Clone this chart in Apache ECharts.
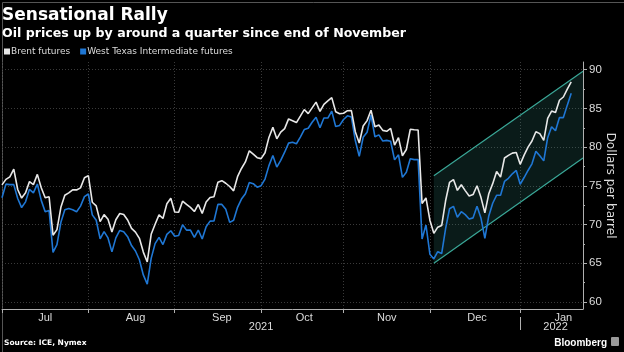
<!DOCTYPE html>
<html>
<head>
<meta charset="utf-8">
<script src="https://cdn.jsdelivr.net/npm/echarts@6/dist/echarts.min.js"></script>
<style>
html, body { margin: 0; padding: 0; background: #000; }
#chart { width: 624px; height: 352px; }
</style>
</head>
<body>
<div id="chart"></div>
<script>
// trading days (Mon-Fri) shown on the axis
var firstDay = '2021-06-30';
var lastDay = '2022-01-24';

// Brent futures, one value per trading day from Jun 30
var brent = [
	75.13,
	75.84, 76.17, 77.16, 74.53, 73.43, 74.12, 75.55, 75.16, 76.49, 74.76, 73.47, 73.59, 68.62, 69.35, 72.23, 73.79, 74.10, 74.50, 74.48, 74.74, 76.05, 76.33,
	72.89, 72.41, 70.38, 71.29, 70.70, 69.04, 70.63, 71.44, 71.31, 70.59, 69.51, 69.03, 68.23, 66.45, 65.18, 68.75, 70.05, 71.25, 70.79, 72.70, 73.41, 71.63,
	71.59, 73.03, 72.61, 72.22, 71.69, 72.60, 71.45, 72.92, 73.51, 73.60, 75.46, 75.67, 75.34, 74.92, 74.36, 76.19, 77.25, 78.09, 79.53, 79.09, 78.64, 78.52,
	79.28, 81.26, 82.56, 81.08, 81.95, 82.39, 83.65, 83.42, 83.18, 84.00, 84.86, 84.33, 85.08, 85.82, 84.61, 85.53, 85.99, 86.40, 84.58, 84.32, 84.38,
	84.71, 84.72, 81.99, 80.54, 82.74, 83.43, 84.78, 82.64, 82.87, 82.17, 82.05, 82.43, 80.28, 81.24, 78.89, 79.70, 82.31, 82.25, 82.22, 72.72, 73.44, 70.57,
	68.87, 69.67, 69.88, 73.08, 75.44, 75.82, 74.42, 75.15, 74.39, 73.70, 73.88, 75.02, 73.52, 71.52, 73.98, 75.29, 76.85, 76.14, 78.60, 78.94, 79.23, 79.32, 77.78,
	78.98, 80.00, 80.80, 81.99, 81.75, 80.87, 83.72, 84.67, 84.47, 86.06, 86.48, 87.51, 88.44
];

// West Texas Intermediate futures
var wti = [
	73.47,
	75.23, 75.16, 75.16, 73.37, 72.20, 72.94, 74.56, 74.10, 75.25, 73.13, 71.65, 71.81, 66.42, 67.42, 70.30, 71.91, 72.07, 71.91, 71.65, 72.39, 73.62, 73.95,
	71.26, 70.56, 68.15, 69.09, 68.28, 66.48, 68.29, 69.25, 69.09, 68.44, 67.29, 66.59, 65.46, 63.50, 62.32, 65.64, 67.54, 68.36, 67.42, 68.74, 69.21, 68.50,
	68.59, 69.99, 69.29, 69.29, 68.35, 69.30, 68.14, 69.72, 70.45, 70.46, 72.61, 72.61, 71.97, 70.29, 70.56, 72.23, 73.30, 73.98, 75.45, 75.29, 74.83, 75.03,
	75.88, 77.62, 78.93, 77.43, 78.30, 79.35, 80.52, 80.64, 80.44, 81.31, 82.28, 82.44, 83.22, 83.87, 82.50, 83.76, 83.76, 84.65, 82.66, 82.81, 83.57,
	84.05, 83.91, 80.86, 78.81, 81.27, 81.93, 84.15, 81.34, 81.59, 80.79, 80.88, 80.76, 78.36, 79.01, 76.10, 76.75, 78.50, 78.39, 78.39, 68.15, 69.95, 66.18,
	65.57, 66.50, 66.26, 69.49, 72.05, 72.36, 70.94, 71.67, 71.29, 70.73, 70.87, 72.38, 70.86, 68.23, 71.12, 72.76, 73.79, 73.79, 75.57, 75.98, 76.56, 76.99, 75.21,
	76.08, 76.99, 77.85, 79.46, 78.90, 78.23, 81.22, 82.64, 82.12, 83.82, 83.82, 85.43, 86.96
];

// rising channel drawn from end of November
var channelDays = ['2021-12-01', '2022-01-24'];
var channelLow = [65.0, 78.6];
var channelHigh = [76.3, 89.8];

// bottom axis text
var monthLabels = ['Jul', 'Aug', 'Sep', 'Oct', 'Nov', 'Dec', 'Jan'];
var monthLabelDays = ['2021-07-15', '2021-08-17', '2021-09-16', '2021-10-15', '2021-11-15', '2021-12-16', '2022-01-17'];
var yearLabels = ['2021', '2022'];
var yearLabelDays = ['2021-09-30', '2022-01-13'];
var yTicks = [60, 65, 70, 75, 80, 85, 90];

// build weekday list
var days = [];
var d = new Date(firstDay + 'T00:00:00');
var end = new Date(lastDay + 'T00:00:00');
while (d <= end) {
	var w = d.getDay();
	if (w !== 0 && w !== 6) {
		var m = d.getMonth() + 1, dd = d.getDate();
		days.push(d.getFullYear() + '-' + (m < 10 ? '0' + m : m) + '-' + (dd < 10 ? '0' + dd : dd));
	}
	d.setDate(d.getDate() + 1);
}

// last trading day of a month / of a year
function monthEnd(index, value) {
	return index + 1 < days.length && days[index + 1].slice(5, 7) !== value.slice(5, 7);
}
function yearEnd(index, value) {
	return index + 1 < days.length && days[index + 1].slice(0, 4) !== value.slice(0, 4);
}

var gridColor = '#3a3a3a';
var axisColor = '#b0b0b0';
var textColor = '#dcdcdc';

var myChart = echarts.init(document.getElementById('chart'));

var option = {
	backgroundColor: '#000',
	animation: false,
	title: [{
		text: 'Sensational Rally',
		left: 2, top: 7, padding: 0,
		textStyle: { color: '#fff', fontFamily: 'DejaVu Sans', fontWeight: 'bold', fontSize: 17 }
	}, {
		text: 'Oil prices up by around a quarter since end of November',
		left: 2, top: 27, padding: 0,
		textStyle: { color: '#fff', fontFamily: 'DejaVu Sans', fontWeight: 'bold', fontSize: 12.6 }
	}, {
		text: 'Source: ICE, Nymex',
		left: 4, top: 339, padding: 0,
		textStyle: { color: '#fff', fontFamily: 'DejaVu Sans', fontWeight: 'bold', fontSize: 7.5 }
	}, {
		text: 'Bloomberg',
		right: 17, top: 338, padding: 0,
		textStyle: { color: '#fff', fontFamily: 'Liberation Sans', fontWeight: 'bold', fontSize: 10 }
	}],
	legend: {
		data: ['Brent futures', 'West Texas Intermediate futures'],
		left: 4, top: 47, padding: 0,
		icon: 'rect',
		itemWidth: 6, itemHeight: 6,
		itemGap: 10,
		textStyle: { color: textColor, fontFamily: 'DejaVu Sans', fontSize: 9, padding: [0, 0, 0, -4] }
	},
	grid: { left: 2, right: 41, top: 62, bottom: 43, containLabel: false, outerBoundsMode: 'none' },
	xAxis: [{
		// month ticks and labels
		type: 'category',
		data: days,
		boundaryGap: false,
		axisLine: { lineStyle: { color: axisColor } },
		axisTick: { interval: monthEnd, length: 4, lineStyle: { color: axisColor } },
		axisLabel: {
			interval: function (index, value) { return monthLabelDays.indexOf(value) >= 0; },
			formatter: function (value) { return monthLabels[monthLabelDays.indexOf(value)]; },
			color: textColor, fontFamily: 'Liberation Sans', fontSize: 11, margin: 3
		},
		splitLine: { show: true, interval: monthEnd, lineStyle: { color: gridColor, type: [1, 2] } }
	}, {
		// year row
		type: 'category',
		data: days,
		boundaryGap: false,
		position: 'bottom',
		offset: 8,
		axisLine: { show: false },
		axisTick: { show: true, interval: yearEnd, length: 13, lineStyle: { color: axisColor } },
		axisLabel: {
			interval: function (index, value) { return yearLabelDays.indexOf(value) >= 0; },
			formatter: function (value) { return yearLabels[yearLabelDays.indexOf(value)]; },
			color: textColor, fontFamily: 'Liberation Sans', fontSize: 11, margin: 4
		},
		splitLine: { show: false }
	}],
	yAxis: {
		type: 'value',
		position: 'right',
		min: 59.1, max: 91,
		name: 'Dollars per barrel',
		nameLocation: 'middle',
		nameRotate: -90,
		nameGap: 21,
		nameMoveOverlap: false,
		nameTextStyle: { color: textColor, fontFamily: 'DejaVu Sans', fontSize: 12.2 },
		axisLine: { show: true, lineStyle: { color: axisColor } },
		axisTick: { show: true, customValues: yTicks, length: 4, lineStyle: { color: axisColor } },
		minorTick: { show: true, splitNumber: 2, length: 2, lineStyle: { color: axisColor } },
		axisLabel: { customValues: yTicks, color: textColor, fontFamily: 'Liberation Sans', fontSize: 11.5, margin: 6 },
		splitLine: { show: true, lineStyle: { color: gridColor, type: [1, 2] } }
	},
	series: [{
		name: 'channel',
		type: 'custom',
		z: 1,
		silent: true,
		encode: { x: [0, 3], y: [1, 2, 4, 5] },
		data: [[days.indexOf(channelDays[0]), channelLow[0], channelHigh[0],
			days.indexOf(channelDays[1]), channelLow[1], channelHigh[1]]],
		renderItem: function (params, api) {
			var a = api.coord([api.value(0), api.value(1)]);
			var b = api.coord([api.value(0), api.value(2)]);
			var c = api.coord([api.value(3), api.value(5)]);
			var e = api.coord([api.value(3), api.value(4)]);
			var edge = { stroke: '#3aa898', lineWidth: 1.2 };
			return {
				type: 'group',
				children: [
					{ type: 'polygon', shape: { points: [a, b, c, e] }, style: { fill: 'rgba(60,170,155,0.16)' } },
					{ type: 'line', shape: { x1: b[0], y1: b[1], x2: c[0], y2: c[1] }, style: edge },
					{ type: 'line', shape: { x1: a[0], y1: a[1], x2: e[0], y2: e[1] }, style: edge }
				]
			};
		}
	}, {
		name: 'West Texas Intermediate futures',
		type: 'line',
		data: wti,
		symbol: 'none',
		z: 3,
		itemStyle: { color: '#1f77d4' },
		lineStyle: { color: '#1f77d4', width: 1.6 }
	}, {
		name: 'Brent futures',
		type: 'line',
		data: brent,
		symbol: 'none',
		z: 4,
		itemStyle: { color: '#e8e8e8' },
		lineStyle: { color: '#e8e8e8', width: 1.6 }
	}],
	graphic: [{
		type: 'rect',
		left: 611, top: 337,
		shape: { width: 8, height: 9, r: 1 },
		style: { fill: '#9a9a9a' }
	}, {
		type: 'rect',
		left: 0, top: 0,
		shape: { x: 0.5, y: 0.5, width: 623, height: 351 },
		style: { fill: 'none', stroke: '#555', lineWidth: 1 }
	}]
};

myChart.setOption(option);
</script>
</body>
</html>
